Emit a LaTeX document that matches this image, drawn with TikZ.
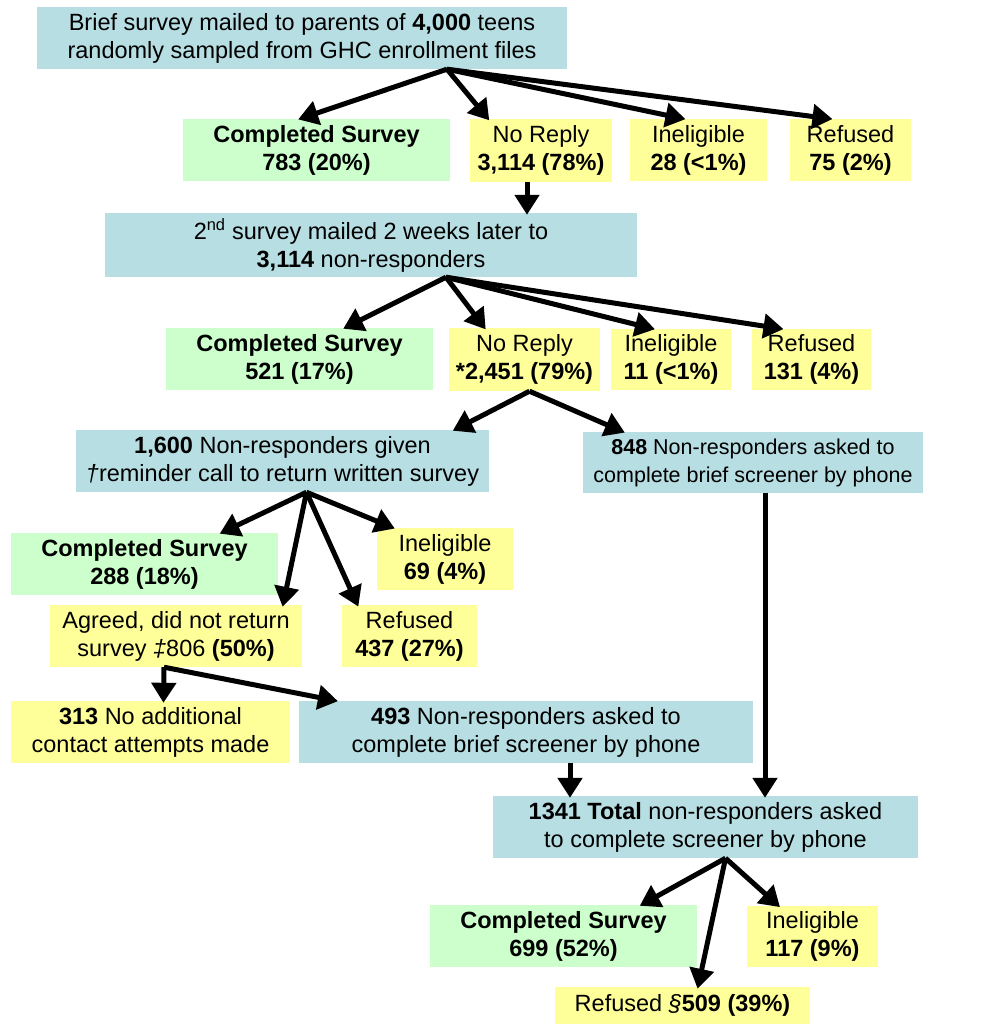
\documentclass[tikz,border=0pt]{standalone}
\usepackage{fontspec}
\setmainfont{Liberation Sans}
\usetikzlibrary{arrows.meta}
\definecolor{bluebox}{RGB}{183,222,226}
\definecolor{greenbox}{RGB}{204,255,204}
\definecolor{yellowbox}{RGB}{255,255,153}
\tikzset{
  box/.style={inner sep=0pt, align=center, font=\fontsize{23.5}{28}\selectfont},
  bluen/.style={box, fill=bluebox},
  greenn/.style={box, fill=greenbox},
  yellown/.style={box, fill=yellowbox},
  arr/.style={line width=5pt, -{Triangle[length=20pt,width=24pt]}, shorten >=-2pt},
}
\begin{document}
\begin{tikzpicture}[x=1pt,y=-1pt]
\useasboundingbox (0,0) rectangle (995,1028);
% boxes
\node[bluen, minimum width=530pt, minimum height=62pt] (top) at (302,38) {Brief survey mailed to parents of \textbf{4,000} teens\\randomly sampled from GHC enrollment files};
\node[greenn, minimum width=267pt, minimum height=62pt] (c1) at (316.5,150) {\textbf{Completed Survey}\\\textbf{783 (20\%)}};
\node[yellown, minimum width=142pt, minimum height=63pt] (n1) at (541,150.5) {No Reply\\\textbf{3,114 (78\%)}};
\node[yellown, minimum width=137pt, minimum height=62pt] (i1) at (698.5,150) {Ineligible\\\textbf{28 (<1\%)}};
\node[yellown, minimum width=121pt, minimum height=62pt] (r1) at (850.5,150) {Refused\\\textbf{75 (2\%)}};
\node[bluen, minimum width=532pt, minimum height=64pt] (s2) at (371,245) {2\textsuperscript{nd} survey mailed 2 weeks later to\\\textbf{3,114} non-responders};
\node[greenn, minimum width=267pt, minimum height=62pt] (c2) at (299.5,359) {\textbf{Completed Survey}\\\textbf{521 (17\%)}};
\node[yellown, minimum width=151pt, minimum height=63pt] (n2) at (524.5,359.5) {No Reply\\\textbf{*2,451 (79\%)}};
\node[yellown, minimum width=120pt, minimum height=61pt] (i2) at (671,359.5) {Ineligible\\\textbf{11 (<1\%)}};
\node[yellown, minimum width=119pt, minimum height=61pt] (r2) at (811.5,359.5) {Refused\\\textbf{131 (4\%)}};
\node[bluen, minimum width=413pt, minimum height=62pt] (b1600) at (282.5,461) {\textbf{1,600} Non-responders given\\\textit{†}reminder call to return written survey};
\node[bluen, minimum width=340pt, minimum height=61pt, font=\fontsize{21.5}{28}\selectfont] (b848) at (753,462.5) {\textbf{848} Non-responders asked to\\complete brief screener by phone};
\node[greenn, minimum width=267pt, minimum height=62pt] (c3) at (144.5,564) {\textbf{Completed Survey}\\\textbf{288 (18\%)}};
\node[yellown, minimum width=136pt, minimum height=62pt] (i3) at (445,559) {Ineligible\\\textbf{69 (4\%)}};
\node[yellown, minimum width=252pt, minimum height=62pt] (ag) at (176,636) {Agreed, did not return\\survey \textit{‡}806 \textbf{(50\%)}};
\node[yellown, minimum width=135pt, minimum height=62pt] (r3) at (409.5,636) {Refused\\\textbf{437 (27\%)}};
\node[yellown, minimum width=279pt, minimum height=62pt] (b313) at (150.5,732) {\textbf{313} No additional\\contact attempts made};
\node[bluen, minimum width=454pt, minimum height=62pt] (b493) at (526,732) {\textbf{493} Non-responders asked to\\complete brief screener by phone};
\node[bluen, minimum width=425pt, minimum height=62pt] (b1341) at (705.5,827) {\textbf{1341 Total} non-responders asked\\to complete screener by phone};
\node[greenn, minimum width=267pt, minimum height=62pt] (c4) at (563.5,936) {\textbf{Completed Survey}\\\textbf{699 (52\%)}};
\node[yellown, minimum width=131pt, minimum height=61pt] (i4) at (812.5,936.5) {Ineligible\\\textbf{117 (9\%)}};
\node[yellown, minimum width=255pt, minimum height=37pt] (r4) at (682.5,1005.5) {Refused \textit{§}\textbf{509 (39\%)}};
% split points
\coordinate (p0) at ([xshift=145pt]top.south);
\coordinate (p1) at ([xshift=75pt]s2.south);
\coordinate (p2) at ([xshift=5pt]n2.south);
\coordinate (p3) at ([xshift=24pt]b1600.south);
\coordinate (p4) at ([xshift=-12pt]ag.south);
\coordinate (p5) at ([xshift=20pt]b1341.south);
% arrows
\draw[arr] (p0) -- ([xshift=-16.5pt]c1.north);
\draw[arr] (p0) -- ([xshift=-53pt]n1.north);
\draw[arr] (p0) -- ([xshift=-15pt]i1.north);
\draw[arr] (p0) -- ([xshift=-20pt]r1.north);
\draw[arr] ([xshift=-14pt]n1.south) -- ([xshift=156pt]s2.north);
\draw[arr] (p1) -- ([xshift=45.5pt]c2.north);
\draw[arr] (p1) -- ([xshift=-40pt]n2.north);
\draw[arr] (p1) -- ([xshift=-18pt]i2.north);
\draw[arr] (p1) -- ([xshift=-30pt]r2.north);
\draw[arr] (p2) -- ([xshift=172pt]b1600.north);
\draw[arr] (p2) -- ([xshift=-130pt]b848.north);
\draw[arr] ([xshift=12pt]b848.south) -- ([xshift=59.5pt]b1341.north);
\draw[arr] (p3) -- ([xshift=77pt]c3.north);
\draw[arr] (p3) -- ([xshift=107pt]ag.north);
\draw[arr] (p3) -- ([xshift=-52pt]r3.north);
\draw[arr] (p3) -- ([xshift=-52pt]i3.north);
\draw[arr] (p4) -- ([xshift=13pt]b313.north);
\draw[arr] (p4) -- ([xshift=-190pt]b493.north);
\draw[arr] ([xshift=44pt]b493.south) -- ([xshift=-135.5pt]b1341.north);
\draw[arr] (p5) -- ([xshift=78pt]c4.north);
\draw[arr] (p5) -- ([xshift=15.5pt]r4.north);
\draw[arr] (p5) -- ([xshift=-34pt]i4.north);
\end{tikzpicture}
\end{document}
